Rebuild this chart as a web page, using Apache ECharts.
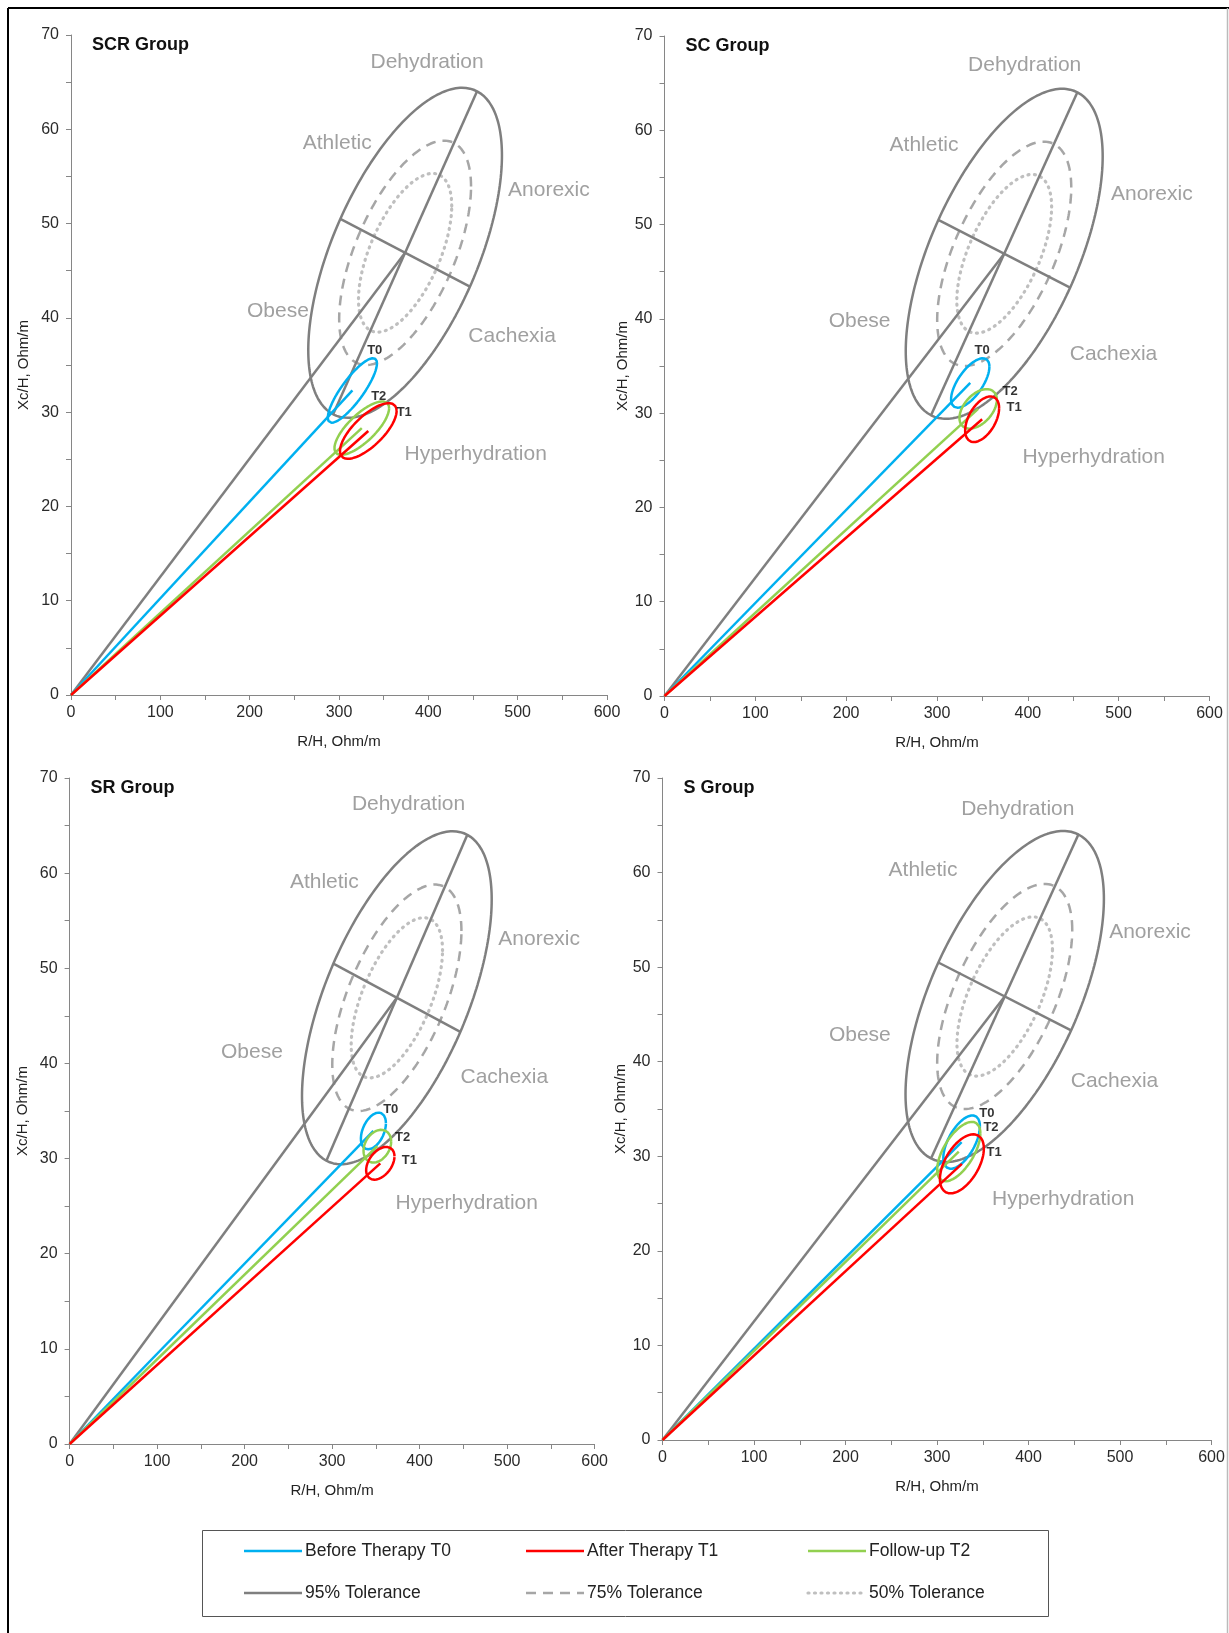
<!DOCTYPE html>
<html>
<head>
<meta charset="utf-8">
<script src="https://cdn.jsdelivr.net/npm/echarts@6/dist/echarts.min.js"></script>
<style>
html,body{margin:0;padding:0;background:#fff;}
#chart{width:1229px;height:1633px;}
</style>
</head>
<body>
<div id="chart"></div>
<script>
// ---------------- DATA ----------------
const groups = ['SCR Group', 'SC Group', 'SR Group', 'S Group'];
const timeNames = ['Before Therapy T0', 'After Therapy T1', 'Follow-up T2'];
const timeTags = ['T0', 'T1', 'T2'];
const xTicks = [0, 100, 200, 300, 400, 500, 600];
const yTicks = [0, 10, 20, 30, 40, 50, 60, 70];

// mean vectors (R/H, Xc/H) per group
const meanR_T0  = [315.0, 336.6, 347.2, 326.9];
const meanXc_T0 = [32.3, 33.2, 32.9, 31.5];
const meanR_T1  = [332.8, 349.7, 355.1, 327.2];
const meanXc_T1 = [28.0, 29.35, 29.5, 29.2];
const meanR_T2  = [325.5, 345.3, 351.7, 323.8];
const meanXc_T2 = [28.3, 30.45, 31.3, 30.5];

// confidence ellipses: half-range along R, half-range along Xc, correlation
const halfR_T0  = [27.5, 21.1, 14.3, 20.0];
const halfXc_T0 = [3.42, 2.62, 1.93, 2.82];
const corr_T0   = [0.84, 0.66, 0.42, 0.59];
const halfR_T1  = [31.7, 18.7, 16.2, 24.0];
const halfXc_T1 = [2.95, 2.42, 1.72, 3.12];
const corr_T1   = [0.72, 0.49, 0.42, 0.52];
const halfR_T2  = [30.6, 20.6, 15.8, 23.6];
const halfXc_T2 = [2.83, 2.10, 1.72, 3.14];
const corr_T2   = [0.75, 0.46, 0.28, 0.61];

// reference tolerance ellipses (same in all panels)
const refMean = [374, 46.9];
const tolNames = ['95% Tolerance', '75% Tolerance', '50% Tolerance'];
const tolHalfR  = [108.4, 73.8, 52.2];
const tolHalfXc = [17.5, 11.9, 8.42];
const refCorr = 0.59;
const refAxisAngle = 42; // parametric angle (deg) of drawn ellipse axes

// zone annotation anchors (data coords)
const zoneNames = ['Dehydration', 'Athletic', 'Anorexic', 'Obese', 'Cachexia', 'Hyperhydration'];
const zoneR  = [[398.6, 298, 535, 231.6, 493.8, 453], [396.5, 285.7, 536.5, 214.8, 494.3, 472.6],
                [387.4, 291.1, 536.6, 208.4, 496.8, 453.9], [388.3, 284.7, 532.8, 215.7, 494, 437.9]];
const zoneXc = [[67.1, 58.5, 53.5, 40.7, 38.1, 25.5], [66.95, 58.4, 53.2, 39.8, 36.2, 25.3],
                [67.2, 59.0, 53.1, 41.2, 38.6, 25.3], [66.7, 60.3, 53.7, 42.8, 37.9, 25.5]];
// T-tag anchors [T0, T1, T2]
const tagR  = [[340, 373, 344.5], [349.6, 384.8, 380.4], [367, 388.3, 380.6], [354.6, 362.4, 359]];
const tagXc = [[36.5, 30.0, 31.7], [36.6, 30.6, 32.3], [35.2, 29.8, 32.2], [34.5, 30.4, 33.1]];

// ---------------- LAYOUT ----------------
const grids = [
  {left: 71, top: 35, width: 536, height: 660, nameGapY: 40},
  {left: 664.5, top: 36, width: 545, height: 660, nameGapY: 34},
  {left: 69.6, top: 778, width: 525, height: 666, nameGapY: 39},
  {left: 662.5, top: 778, width: 549, height: 662, nameGapY: 29}
];
const colors = ['#00B0F0', '#FF0000', '#92D050'];
const grayCols = ['#7F7F7F', '#A6A6A6', '#BFBFBF'];
const font = '"Liberation Sans", Arial, Helvetica, sans-serif';

function ellipse(mR, mX, aR, aX, r, n) {
  const pts = [];
  const s = Math.sqrt(1 - r * r);
  for (let i = 0; i <= n; i++) {
    const t = 2 * Math.PI * i / n;
    pts.push([mR + aR * Math.cos(t), mX + aX * (r * Math.cos(t) + s * Math.sin(t))]);
  }
  return pts;
}
function ellPt(mR, mX, aR, aX, r, deg) {
  const t = deg * Math.PI / 180, s = Math.sqrt(1 - r * r);
  return [mR + aR * Math.cos(t), mX + aX * (r * Math.cos(t) + s * Math.sin(t))];
}

const xAxes = [], yAxes = [], series = [], titles = [];
const means = [[meanR_T0, meanXc_T0], [meanR_T1, meanXc_T1], [meanR_T2, meanXc_T2]];
const halves = [[halfR_T0, halfXc_T0, corr_T0], [halfR_T1, halfXc_T1, corr_T1], [halfR_T2, halfXc_T2, corr_T2]];

grids.forEach((g, i) => {
  xAxes.push({
    type: 'value', gridIndex: i, min: xTicks[0], max: xTicks[xTicks.length - 1], interval: 100,
    name: 'R/H, Ohm/m', nameLocation: 'middle', nameGap: 39,
    nameTextStyle: {fontFamily: font, fontSize: 15, color: '#222'},
    axisLine: {show: true, lineStyle: {color: '#868686', width: 1}},
    axisTick: {show: true, inside: false, length: 5, lineStyle: {color: '#868686'}},
    minorTick: {show: true, splitNumber: 2, length: 5, lineStyle: {color: '#868686'}},
    splitLine: {show: false}, minorSplitLine: {show: false},
    axisLabel: {fontFamily: font, fontSize: 16, color: '#2a2a2a', margin: 10}
  });
  yAxes.push({
    type: 'value', gridIndex: i, min: yTicks[0], max: yTicks[yTicks.length - 1], interval: 10,
    name: 'Xc/H, Ohm/m', nameLocation: 'middle', nameGap: g.nameGapY, nameRotate: 90,
    nameTextStyle: {fontFamily: font, fontSize: 15, color: '#222'},
    axisLine: {show: true, lineStyle: {color: '#868686', width: 1}},
    axisTick: {show: true, inside: false, length: 5, lineStyle: {color: '#868686'}},
    minorTick: {show: true, splitNumber: 2, length: 5, lineStyle: {color: '#868686'}},
    splitLine: {show: false}, minorSplitLine: {show: false},
    axisLabel: {fontFamily: font, fontSize: 16, color: '#2a2a2a', margin: 12}
  });
  titles.push({
    text: groups[i], left: g.left + 21, top: g.top + 1, padding: 0,
    textStyle: {fontFamily: font, fontSize: 18, fontWeight: 'bold', color: '#111'}
  });

  const base = {type: 'line', xAxisIndex: i, yAxisIndex: i, symbol: 'none', showSymbol: false,
                silent: true, animation: false};
  // tolerance ellipses
  const tolTypes = ['solid', [10, 7], [1, 5.5]];
  const tolWidths = [2.5, 2.5, 3.2];
  for (let k = 2; k >= 0; k--) {
    series.push(Object.assign({}, base, {
      name: tolNames[k], z: 2,
      data: ellipse(refMean[0], refMean[1], tolHalfR[k], tolHalfXc[k], refCorr, 240),
      lineStyle: {color: grayCols[k], width: tolWidths[k], type: tolTypes[k], cap: k === 2 ? 'round' : 'butt'}
    }));
  }
  // axes of the 95% ellipse + line from origin to centre
  const a1 = ellPt(refMean[0], refMean[1], tolHalfR[0], tolHalfXc[0], refCorr, refAxisAngle);
  const a2 = ellPt(refMean[0], refMean[1], tolHalfR[0], tolHalfXc[0], refCorr, refAxisAngle + 180);
  const b1 = ellPt(refMean[0], refMean[1], tolHalfR[0], tolHalfXc[0], refCorr, refAxisAngle + 90);
  const b2 = ellPt(refMean[0], refMean[1], tolHalfR[0], tolHalfXc[0], refCorr, refAxisAngle + 270);
  [[a1, a2], [b1, b2], [[0, 0], refMean]].forEach(seg => {
    series.push(Object.assign({}, base, {
      name: tolNames[0], z: 2, data: seg,
      lineStyle: {color: grayCols[0], width: 2.5}
    }));
  });
  // time points: vector + confidence ellipse
  [0, 2, 1].forEach(t => {
    const mR = means[t][0][i], mX = means[t][1][i];
    series.push(Object.assign({}, base, {
      name: timeNames[t], z: 5, data: [[0, 0], [mR, mX]],
      lineStyle: {color: colors[t], width: 2.5}
    }));
    series.push(Object.assign({}, base, {
      name: timeNames[t], z: 5,
      data: ellipse(mR, mX, halves[t][0][i], halves[t][1][i], halves[t][2][i], 160),
      lineStyle: {color: colors[t], width: 2.5}
    }));
  });
  // zone labels
  series.push({
    type: 'scatter', xAxisIndex: i, yAxisIndex: i, symbolSize: 1, silent: true, z: 6,
    itemStyle: {color: 'rgba(0,0,0,0)'},
    label: {show: true, position: 'inside', formatter: '{b}', fontFamily: font, fontSize: 21, color: '#888888'},
    data: zoneNames.map((n, k) => ({name: n, value: [zoneR[i][k], zoneXc[i][k]]}))
  });
  // T tags
  series.push({
    type: 'scatter', xAxisIndex: i, yAxisIndex: i, symbolSize: 1, silent: true, z: 7,
    itemStyle: {color: 'rgba(0,0,0,0)'},
    label: {show: true, position: 'inside', formatter: '{b}', fontFamily: font, fontSize: 13, fontWeight: 'bold', color: '#000'},
    data: timeTags.map((n, k) => ({name: n, value: [tagR[i][k], tagXc[i][k]]}))
  });
});

// legend drawn as graphic
const legendItems = [
  {name: timeNames[0], color: colors[0], dash: null, x: 244, y: 1551},
  {name: timeNames[1], color: colors[1], dash: null, x: 526, y: 1551},
  {name: timeNames[2], color: colors[2], dash: null, x: 808, y: 1551},
  {name: tolNames[0], color: grayCols[0], dash: null, x: 244, y: 1593},
  {name: tolNames[1], color: grayCols[1], dash: [10, 7], x: 526, y: 1593},
  {name: tolNames[2], color: grayCols[2], dash: [1, 5.5], x: 808, y: 1593}
];
const graphic = [
  {type: 'line', shape: {x1: 8, y1: 8, x2: 1229, y2: 8}, style: {stroke: '#000', lineWidth: 2}},
  {type: 'line', shape: {x1: 8, y1: 8, x2: 8, y2: 1633}, style: {stroke: '#000', lineWidth: 2}},
  {type: 'line', shape: {x1: 1227.5, y1: 8, x2: 1227.5, y2: 1633}, style: {stroke: '#BBBBBB', lineWidth: 1.5}},
  {type: 'rect', shape: {x: 202.5, y: 1530.5, width: 846, height: 86}, style: {fill: 'none', stroke: '#555', lineWidth: 1}}
];
legendItems.forEach((it, k) => {
  graphic.push({type: 'line', shape: {x1: it.x, y1: it.y, x2: it.x + 58, y2: it.y},
    style: {stroke: it.color, lineWidth: k === 5 ? 3.2 : 2.5, lineDash: it.dash, lineCap: k === 5 ? 'round' : 'butt'}});
  graphic.push({type: 'text', x: it.x + 61, y: it.y,
    style: {text: it.name, fill: '#222', font: '17.5px ' + font, textVerticalAlign: 'middle', textAlign: 'left'}});
});

const chart = echarts.init(document.getElementById('chart'), null, {renderer: 'canvas'});
chart.setOption({
  animation: false,
  backgroundColor: '#fff',
  title: titles,
  grid: grids.map(g => ({left: g.left, top: g.top, width: g.width, height: g.height, containLabel: false})),
  xAxis: xAxes,
  yAxis: yAxes,
  series: series,
  graphic: graphic
});
</script>
</body>
</html>
